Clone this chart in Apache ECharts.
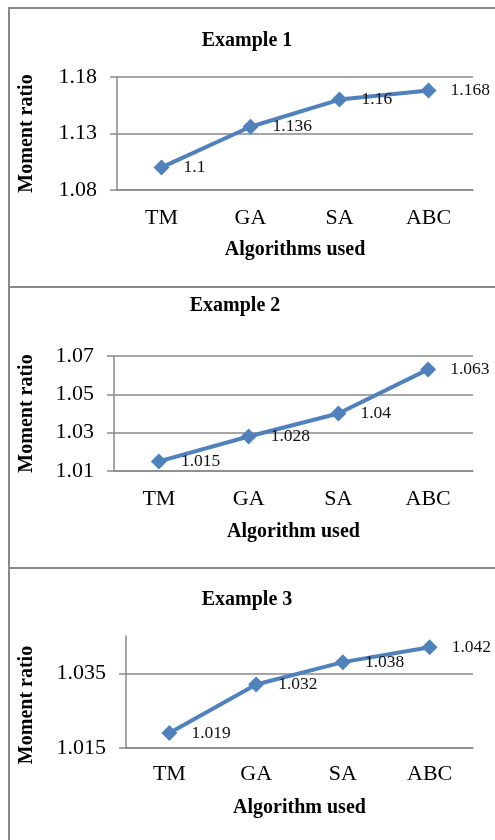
<!DOCTYPE html>
<html>
<head>
<meta charset="utf-8">
<script src="https://cdn.jsdelivr.net/npm/echarts@6/dist/echarts.min.js"></script>
<style>
html,body{margin:0;padding:0;background:#fff;}
#c{width:495px;height:840px;}
</style>
</head>
<body>
<div id="c"></div>
<script>
var categories = ['TM', 'GA', 'SA', 'ABC'];
var titles = ['Example 1', 'Example 2', 'Example 3'];
var xNames = ['Algorithms used', 'Algorithm used', 'Algorithm used'];
var yName = 'Moment ratio';
var values1 = [1.1, 1.136, 1.16, 1.168];
var values2 = [1.015, 1.028, 1.04, 1.063];
var values3 = [1.019, 1.032, 1.038, 1.042];
var ticks1 = [1.08, 1.13, 1.18];
var ticks2 = [1.01, 1.03, 1.05, 1.07];
var ticks3 = [1.015, 1.035];
var yMin = [1.08, 1.01, 1.015];
var yMax = [1.18, 1.07, 1.045];

var seriesValues = [values1, values2, values3];
var tickSets = [ticks1, ticks2, ticks3];

var FONT = "'Liberation Serif', 'Times New Roman', serif";
var GRAY = '#898989';
var BLUE = '#4F81BD';

var grids = [
  {left: 117, right: 22, top: 77, height: 113},
  {left: 114, right: 22, top: 356, height: 115},
  {left: 126, right: 22, top: 636, height: 112}
];
var titleLayout = [
  {left: 242, top: 26},
  {left: 230, top: 291},
  {left: 242, top: 585}
];
var xLabelMargin = [17, 17, 15];
var xNameGap = [50, 51, 50];
var yNameGap = [80, 77, 89];
var yNamePad = [[0,0,0,0],[0,0,0,0],[0,26,0,0]];

var option = {
  animation: false,
  backgroundColor: '#fff',
  title: titles.map(function (t, i) {
    return {
      text: t,
      left: titleLayout[i].left,
      top: titleLayout[i].top,
      textAlign: 'center',
      textStyle: {fontFamily: FONT, fontWeight: 'bold', fontSize: 20, color: '#000'}
    };
  }),
  graphic: [
    {type: 'rect', shape: {x: 9, y: 8, width: 500, height: 279}, style: {fill: 'none', stroke: GRAY, lineWidth: 2}, silent: true},
    {type: 'rect', shape: {x: 9, y: 287, width: 500, height: 281}, style: {fill: 'none', stroke: GRAY, lineWidth: 2}, silent: true},
    {type: 'rect', shape: {x: 9, y: 568, width: 500, height: 300}, style: {fill: 'none', stroke: GRAY, lineWidth: 2}, silent: true}
  ],
  grid: grids,
  xAxis: grids.map(function (g, i) {
    return {
      type: 'category',
      gridIndex: i,
      data: categories,
      boundaryGap: true,
      name: xNames[i],
      nameLocation: 'middle',
      nameGap: xNameGap[i],
      nameTextStyle: {fontFamily: FONT, fontWeight: 'bold', fontSize: 20, color: '#000'},
      axisLine: {show: true, lineStyle: {color: GRAY, width: 1.5}},
      axisTick: {show: false},
      axisLabel: {fontFamily: FONT, fontSize: 22, color: '#000', margin: xLabelMargin[i]},
      splitLine: {show: false}
    };
  }),
  yAxis: grids.map(function (g, i) {
    return {
      type: 'value',
      gridIndex: i,
      min: yMin[i],
      max: yMax[i],
      name: yName,
      nameLocation: 'middle',
      nameRotate: 90,
      nameGap: yNameGap[i],
      nameTextStyle: {fontFamily: FONT, fontWeight: 'bold', fontSize: 20, color: '#000', padding: yNamePad[i]},
      axisLine: {show: true, lineStyle: {color: GRAY, width: 1.5}},
      axisTick: {show: true, length: 7, inside: false, customValues: tickSets[i], lineStyle: {color: GRAY, width: 1.5}},
      axisLabel: {fontFamily: FONT, fontSize: 22, color: '#000', margin: 20, customValues: tickSets[i]},
      splitLine: {show: true, lineStyle: {color: GRAY, width: 1.5}}
    };
  }),
  series: seriesValues.map(function (vals, i) {
    return {
      type: 'line',
      xAxisIndex: i,
      yAxisIndex: i,
      data: vals,
      symbol: 'diamond',
      symbolSize: 16,
      lineStyle: {color: BLUE, width: 4},
      itemStyle: {color: BLUE},
      label: {
        show: true,
        position: 'right',
        distance: 14,
        fontFamily: FONT,
        fontSize: 17.5,
        color: '#111'
      }
    };
  })
};

var chart = echarts.init(document.getElementById('c'), null, {renderer: 'canvas'});
chart.setOption(option);
</script>
</body>
</html>
